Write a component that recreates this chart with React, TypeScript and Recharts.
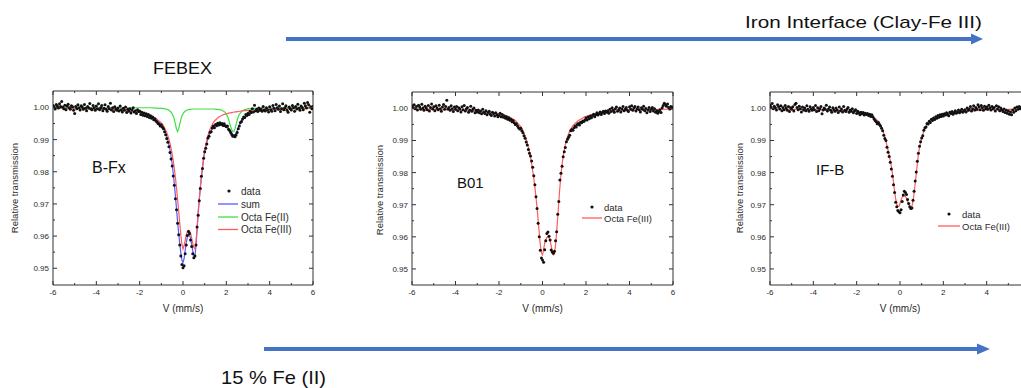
import React from 'react';
import { ComposedChart, Line, Scatter, XAxis, YAxis, ReferenceArea } from 'recharts';

// ---------- velocity grids (mm/s) ----------
const FIT_V = [
  -6, -5.5, -5, -4.5, -4, -3.5, -3, -2.5, -2, -1.75, -1.5, -1.25,
  -1, -0.95, -0.9, -0.85, -0.8, -0.75, -0.7, -0.65, -0.6, -0.55,
  -0.5, -0.45, -0.4, -0.35, -0.3, -0.25, -0.2, -0.15, -0.1, -0.05,
  0, 0.05, 0.1, 0.15, 0.2, 0.25, 0.3, 0.35, 0.4, 0.45,
  0.5, 0.55, 0.6, 0.65, 0.7, 0.75, 0.8, 0.85, 0.9, 0.95,
  1, 1.05, 1.1, 1.15, 1.2, 1.25, 1.3, 1.35, 1.4, 1.45,
  1.5, 1.55, 1.6, 1.65, 1.7, 1.75, 1.8, 1.85, 1.9, 1.95,
  2, 2.05, 2.1, 2.15, 2.2, 2.25, 2.3, 2.35, 2.4, 2.45,
  2.5, 2.55, 2.6, 2.65, 2.7, 2.75, 2.8, 2.85, 2.9, 2.95,
  3, 3.25, 3.5, 4, 4.5, 5, 5.5, 6,
];

const DATA_V = [
  -6, -5.95, -5.9, -5.85, -5.8, -5.75, -5.7, -5.65, -5.6, -5.55, -5.5, -5.45, -5.4, -5.35, -5.3, -5.25, -5.2, -5.15, -5.1, -5.05,
  -5, -4.95, -4.9, -4.85, -4.8, -4.75, -4.7, -4.65, -4.6, -4.55, -4.5, -4.45, -4.4, -4.35, -4.3, -4.25, -4.2, -4.15, -4.1, -4.05,
  -4, -3.95, -3.9, -3.85, -3.8, -3.75, -3.7, -3.65, -3.6, -3.55, -3.5, -3.45, -3.4, -3.35, -3.3, -3.25, -3.2, -3.15, -3.1, -3.05,
  -3, -2.95, -2.9, -2.85, -2.8, -2.75, -2.7, -2.65, -2.6, -2.55, -2.5, -2.45, -2.4, -2.35, -2.3, -2.25, -2.2, -2.15, -2.1, -2.05,
  -2, -1.95, -1.9, -1.85, -1.8, -1.75, -1.7, -1.65, -1.6, -1.55, -1.5, -1.45, -1.4, -1.35, -1.3, -1.25, -1.2, -1.15, -1.1, -1.05,
  -1, -0.95, -0.9, -0.85, -0.8, -0.75, -0.7, -0.65, -0.6, -0.55, -0.5, -0.45, -0.4, -0.35, -0.3, -0.25, -0.2, -0.15, -0.1, -0.05,
  0, 0.05, 0.1, 0.15, 0.2, 0.25, 0.3, 0.35, 0.4, 0.45, 0.5, 0.55, 0.6, 0.65, 0.7, 0.75, 0.8, 0.85, 0.9, 0.95,
  1, 1.05, 1.1, 1.15, 1.2, 1.25, 1.3, 1.35, 1.4, 1.45, 1.5, 1.55, 1.6, 1.65, 1.7, 1.75, 1.8, 1.85, 1.9, 1.95,
  2, 2.05, 2.1, 2.15, 2.2, 2.25, 2.3, 2.35, 2.4, 2.45, 2.5, 2.55, 2.6, 2.65, 2.7, 2.75, 2.8, 2.85, 2.9, 2.95,
  3, 3.05, 3.1, 3.15, 3.2, 3.25, 3.3, 3.35, 3.4, 3.45, 3.5, 3.55, 3.6, 3.65, 3.7, 3.75, 3.8, 3.85, 3.9, 3.95,
  4, 4.05, 4.1, 4.15, 4.2, 4.25, 4.3, 4.35, 4.4, 4.45, 4.5, 4.55, 4.6, 4.65, 4.7, 4.75, 4.8, 4.85, 4.9, 4.95,
  5, 5.05, 5.1, 5.15, 5.2, 5.25, 5.3, 5.35, 5.4, 5.45, 5.5, 5.55, 5.6, 5.65, 5.7, 5.75, 5.8, 5.85, 5.9, 5.95,
  6,
];

// ---------- B-Fx (FEBEX) ----------
const BFX_DATA = [
  1.0006, 1.0002, 0.9995, 1.0009, 1.0004, 0.9998, 1.0011, 1.0003, 1.0018, 1.0001, 0.9996, 1.0007, 0.9993, 1.0004, 1.0010, 0.9999, 0.9994, 1.0005, 1.0002, 0.9991,
  0.9981, 1.0003, 0.9996, 1.0008, 0.9999, 0.9992, 1.0005, 1.0001, 0.9994, 1.0009, 0.9997, 0.9990, 1.0003, 0.9998, 1.0012, 0.9995, 0.9993, 1.0006, 0.9999, 0.9991,
  1.0004, 0.9996, 1.0011, 0.9993, 0.9999, 1.0006, 0.9990, 0.9997, 1.0008, 0.9994, 0.9988, 1.0003, 0.9996, 1.0013, 0.9992, 0.9999, 0.9987, 1.0002, 0.9995, 0.9991,
  0.9998, 0.9989, 1.0004, 0.9993, 0.9986, 0.9997, 0.9991, 1.0001, 0.9984, 0.9994, 0.9988, 0.9996, 0.9983, 0.9992, 0.9999, 0.9986, 0.9990, 0.9981, 0.9993, 0.9987,
  0.9989, 0.9978, 0.9985, 0.9976, 0.9983, 0.9974, 0.9980, 0.9972, 0.9978, 0.9969, 0.9974, 0.9966, 0.9970, 0.9962, 0.9965, 0.9958, 0.9955, 0.9950, 0.9948, 0.9942,
  0.9945, 0.9938, 0.9934, 0.9924, 0.9915, 0.9903, 0.9892, 0.9878, 0.9860, 0.9840, 0.9818, 0.9787, 0.9758, 0.9716, 0.9682, 0.9640, 0.9604, 0.9572, 0.9538, 0.9512,
  0.9502, 0.9508, 0.9545, 0.9572, 0.9602, 0.9614, 0.9608, 0.9588, 0.9568, 0.9545, 0.9533, 0.9538, 0.9572, 0.9628, 0.9665, 0.9710, 0.9748, 0.9786, 0.9810, 0.9842,
  0.9862, 0.9873, 0.9886, 0.9905, 0.9910, 0.9923, 0.9924, 0.9936, 0.9942, 0.9937, 0.9947, 0.9943, 0.9951, 0.9945, 0.9952, 0.9947, 0.9950, 0.9944, 0.9949, 0.9943,
  0.9940, 0.9942, 0.9932, 0.9928, 0.9922, 0.9916, 0.9910, 0.9912, 0.9909, 0.9914, 0.9922, 0.9934, 0.9942, 0.9953, 0.9956, 0.9964, 0.9970, 0.9969, 0.9978, 0.9975,
  0.9982, 0.9978, 0.9988, 0.9984, 0.9996, 0.9986, 1.0007, 0.9990, 0.9994, 0.9987, 0.9998, 0.9991, 0.9995, 0.9988, 1.0003, 0.9992, 0.9989, 0.9999, 0.9993, 0.9986,
  1.0002, 0.9993, 0.9988, 1.0006, 0.9997, 0.9990, 1.0009, 0.9999, 0.9994, 1.0004, 0.9987, 0.9996, 1.0011, 0.9993, 0.9999, 1.0005, 0.9991, 0.9985, 1.0001, 0.9996,
  0.9992, 1.0006, 0.9999, 0.9988, 1.0003, 0.9995, 1.0010, 0.9997, 0.9991, 1.0004, 1.0000, 0.9993, 1.0013, 1.0005, 0.9998, 1.0015, 1.0008, 0.9985, 1.0002, 0.9996,
  1.0003,
];

const BFX_SUM = [
  0.9998, 0.9998, 0.9997, 0.9996, 0.9995, 0.9994, 0.9992, 0.9989, 0.9984, 0.9980, 0.9973, 0.9963,
  0.9948, 0.9943, 0.9937, 0.9930, 0.9921, 0.9911, 0.9899, 0.9885, 0.9868, 0.9848,
  0.9824, 0.9795, 0.9762, 0.9725, 0.9685, 0.9645, 0.9608, 0.9577, 0.9548, 0.9525,
  0.9518, 0.9530, 0.9555, 0.9580, 0.9597, 0.9605, 0.9603, 0.9592, 0.9574, 0.9554,
  0.9540, 0.9538, 0.9570, 0.9620, 0.9670, 0.9712, 0.9750, 0.9783, 0.9813, 0.9839,
  0.9860, 0.9877, 0.9891, 0.9903, 0.9913, 0.9921, 0.9928, 0.9933, 0.9938, 0.9941,
  0.9944, 0.9946, 0.9948, 0.9949, 0.9949, 0.9949, 0.9949, 0.9948, 0.9947, 0.9945,
  0.9943, 0.9940, 0.9936, 0.9931, 0.9926, 0.9920, 0.9915, 0.9913, 0.9915, 0.9920,
  0.9928, 0.9936, 0.9944, 0.9951, 0.9957, 0.9962, 0.9967, 0.9971, 0.9974, 0.9977,
  0.9979, 0.9986, 0.9990, 0.9994, 0.9995, 0.9996, 0.9997, 0.9998,
];

const BFX_FE2 = [
  1.0000, 1.0000, 1.0000, 1.0000, 0.9999, 0.9999, 0.9999, 0.9999, 0.9999, 0.9999, 0.9999, 0.9998,
  0.9997, 0.9997, 0.9996, 0.9996, 0.9995, 0.9994, 0.9993, 0.9991, 0.9988, 0.9985,
  0.9980, 0.9973, 0.9963, 0.9948, 0.9933, 0.9925, 0.9933, 0.9948, 0.9963, 0.9973,
  0.9980, 0.9985, 0.9988, 0.9991, 0.9992, 0.9993, 0.9994, 0.9994, 0.9995, 0.9995,
  0.9995, 0.9995, 0.9995, 0.9995, 0.9995, 0.9995, 0.9995, 0.9995, 0.9995, 0.9995,
  0.9995, 0.9995, 0.9995, 0.9995, 0.9995, 0.9995, 0.9995, 0.9995, 0.9995, 0.9995,
  0.9994, 0.9994, 0.9994, 0.9993, 0.9993, 0.9992, 0.9991, 0.9989, 0.9987, 0.9984,
  0.9979, 0.9973, 0.9964, 0.9952, 0.9940, 0.9930, 0.9925, 0.9926, 0.9934, 0.9946,
  0.9960, 0.9971, 0.9978, 0.9983, 0.9987, 0.9990, 0.9992, 0.9993, 0.9994, 0.9995,
  0.9996, 0.9997, 0.9998, 0.9999, 0.9999, 1.0000, 1.0000, 1.0000,
];

const BFX_FE3 = [
  0.9998, 0.9998, 0.9997, 0.9997, 0.9996, 0.9995, 0.9993, 0.9990, 0.9985, 0.9981, 0.9975, 0.9966,
  0.9952, 0.9948, 0.9943, 0.9937, 0.9930, 0.9922, 0.9912, 0.9901, 0.9888, 0.9873,
  0.9855, 0.9834, 0.9810, 0.9782, 0.9750, 0.9715, 0.9678, 0.9640, 0.9603, 0.9574,
  0.9560, 0.9570, 0.9587, 0.9603, 0.9614, 0.9618, 0.9616, 0.9608, 0.9594, 0.9578,
  0.9565, 0.9560, 0.9582, 0.9625, 0.9675, 0.9715, 0.9752, 0.9785, 0.9815, 0.9842,
  0.9865, 0.9883, 0.9899, 0.9912, 0.9923, 0.9933, 0.9941, 0.9947, 0.9953, 0.9957,
  0.9961, 0.9964, 0.9967, 0.9970, 0.9972, 0.9974, 0.9975, 0.9977, 0.9978, 0.9979,
  0.9980, 0.9981, 0.9982, 0.9983, 0.9983, 0.9984, 0.9985, 0.9985, 0.9986, 0.9986,
  0.9987, 0.9987, 0.9988, 0.9988, 0.9989, 0.9989, 0.9990, 0.9990, 0.9990, 0.9991,
  0.9991, 0.9992, 0.9993, 0.9995, 0.9996, 0.9997, 0.9997, 0.9998,
];

// ---------- B01 ----------
const B01_DATA = [
  1.0008, 1.0003, 1.0011, 0.9999, 1.0006, 0.9995, 1.0010, 1.0004, 0.9997, 1.0013, 1.0001, 0.9994, 1.0007, 1.0002, 0.9996, 1.0009, 0.9992, 1.0003, 1.0014, 0.9998,
  1.0005, 0.9993, 1.0008, 1.0001, 0.9996, 1.0010, 0.9999, 0.9991, 1.0004, 1.0012, 0.9997, 1.0006, 1.0025, 0.9998, 1.0003, 0.9994, 1.0008, 0.9999, 0.9990, 1.0004,
  0.9997, 1.0006, 0.9993, 1.0002, 0.9998, 0.9989, 1.0005, 0.9996, 1.0009, 0.9992, 0.9999, 1.0003, 0.9988, 0.9995, 1.0007, 0.9991, 0.9997, 1.0001, 0.9986, 0.9994,
  0.9989, 0.9995, 0.9986, 0.9992, 0.9983, 0.9997, 0.9988, 0.9984, 0.9993, 0.9980, 0.9987, 0.9991, 0.9982, 0.9978, 0.9988, 0.9984, 0.9976, 0.9986, 0.9980, 0.9974,
  0.9978, 0.9985, 0.9974, 0.9981, 0.9972, 0.9976, 0.9969, 0.9974, 0.9966, 0.9971, 0.9963, 0.9966, 0.9958, 0.9962, 0.9955, 0.9950, 0.9952, 0.9945, 0.9940, 0.9936,
  0.9938, 0.9930, 0.9924, 0.9915, 0.9907, 0.9895, 0.9886, 0.9872, 0.9860, 0.9852, 0.9836, 0.9817, 0.9790, 0.9762, 0.9725, 0.9688, 0.9642, 0.9600, 0.9558, 0.9534,
  0.9528, 0.9521, 0.9560, 0.9588, 0.9610, 0.9615, 0.9602, 0.9590, 0.9559, 0.9553, 0.9549, 0.9555, 0.9588, 0.9616, 0.9670, 0.9710, 0.9777, 0.9798, 0.9820, 0.9849,
  0.9865, 0.9878, 0.9896, 0.9904, 0.9910, 0.9916, 0.9930, 0.9934, 0.9932, 0.9940, 0.9945, 0.9942, 0.9950, 0.9953, 0.9948, 0.9957, 0.9955, 0.9961, 0.9959, 0.9964,
  0.9970, 0.9964, 0.9973, 0.9968, 0.9976, 0.9971, 0.9978, 0.9982, 0.9974, 0.9980, 0.9986, 0.9979, 0.9983, 0.9989, 0.9981, 0.9987, 0.9991, 0.9984, 0.9992, 0.9988,
  0.9993, 0.9985, 0.9997, 0.9990, 1.0002, 0.9994, 0.9988, 0.9999, 1.0004, 0.9991, 0.9996, 1.0001, 0.9989, 0.9998, 1.0006, 0.9993, 0.9997, 1.0003, 0.9995, 0.9990,
  1.0005, 0.9998, 1.0008, 0.9994, 1.0001, 1.0006, 0.9992, 0.9999, 1.0004, 0.9996, 0.9989, 1.0002, 0.9997, 1.0007, 0.9993, 1.0000, 0.9986, 0.9995, 1.0003, 0.9990,
  0.9997, 1.0003, 0.9992, 0.9999, 0.9988, 0.9993, 0.9985, 0.9990, 0.9996, 0.9987, 1.0002, 1.0009, 1.0016, 1.0012, 1.0007, 1.0014, 1.0003, 0.9998, 1.0006, 1.0001,
  1.0004,
];

const B01_FE3 = [
  0.9998, 0.9997, 0.9997, 0.9996, 0.9995, 0.9993, 0.9991, 0.9988, 0.9983, 0.9979, 0.9972, 0.9962,
  0.9943, 0.9937, 0.9930, 0.9922, 0.9913, 0.9903, 0.9892, 0.9879, 0.9864, 0.9847,
  0.9828, 0.9805, 0.9782, 0.9755, 0.9724, 0.9690, 0.9652, 0.9612, 0.9575, 0.9550,
  0.9544, 0.9560, 0.9580, 0.9592, 0.9598, 0.9600, 0.9597, 0.9588, 0.9572, 0.9554,
  0.9544, 0.9548, 0.9575, 0.9615, 0.9660, 0.9710, 0.9755, 0.9795, 0.9825, 0.9850,
  0.9870, 0.9887, 0.9901, 0.9912, 0.9921, 0.9929, 0.9936, 0.9941, 0.9946, 0.9950,
  0.9953, 0.9956, 0.9959, 0.9962, 0.9964, 0.9966, 0.9968, 0.9970, 0.9972, 0.9974,
  0.9975, 0.9976, 0.9977, 0.9978, 0.9979, 0.9980, 0.9981, 0.9982, 0.9983, 0.9983,
  0.9984, 0.9985, 0.9985, 0.9986, 0.9986, 0.9987, 0.9987, 0.9988, 0.9988, 0.9989,
  0.9989, 0.9991, 0.9992, 0.9994, 0.9995, 0.9996, 0.9997, 0.9998,
];

// ---------- IF-B ----------
const IFB_DATA = [
  1.0010, 1.0004, 1.0015, 0.9999, 1.0007, 1.0002, 0.9995, 1.0011, 1.0005, 0.9998, 1.0008, 0.9993, 1.0003, 0.9996, 1.0009, 1.0001, 0.9994, 1.0006, 0.9990, 1.0002,
  0.9997, 1.0005, 0.9992, 1.0012, 1.0016, 1.0003, 0.9996, 1.0007, 0.9999, 0.9989, 1.0004, 0.9995, 1.0001, 0.9993, 1.0008, 0.9997, 0.9991, 1.0005, 0.9998, 0.9994,
  1.0003, 0.9996, 1.0009, 0.9990, 1.0002, 0.9993, 0.9999, 1.0006, 0.9983, 0.9995, 1.0001, 0.9997, 1.0010, 0.9992, 0.9998, 1.0004, 0.9994, 0.9988, 1.0002, 0.9996,
  0.9991, 1.0001, 0.9995, 0.9987, 1.0004, 0.9993, 0.9998, 0.9989, 1.0006, 0.9994, 0.9990, 0.9997, 1.0003, 0.9988, 0.9995, 0.9991, 0.9999, 0.9986, 0.9993, 0.9996,
  0.9984, 0.9991, 0.9986, 0.9980, 0.9988, 0.9983, 0.9987, 0.9979, 0.9985, 0.9981, 0.9984, 0.9978, 0.9982, 0.9975, 0.9980, 0.9974, 0.9968, 0.9962, 0.9958, 0.9952,
  0.9956, 0.9950, 0.9945, 0.9938, 0.9930, 0.9916, 0.9906, 0.9900, 0.9879, 0.9863, 0.9850, 0.9832, 0.9811, 0.9789, 0.9762, 0.9738, 0.9708, 0.9694, 0.9682, 0.9678,
  0.9675, 0.9684, 0.9710, 0.9730, 0.9742, 0.9738, 0.9732, 0.9716, 0.9704, 0.9694, 0.9688, 0.9690, 0.9714, 0.9742, 0.9774, 0.9802, 0.9835, 0.9860, 0.9882, 0.9896,
  0.9908, 0.9915, 0.9932, 0.9940, 0.9942, 0.9953, 0.9951, 0.9960, 0.9956, 0.9966, 0.9962, 0.9970, 0.9965, 0.9974, 0.9969, 0.9978, 0.9972, 0.9980, 0.9975, 0.9982,
  0.9976, 0.9983, 0.9979, 0.9986, 0.9981, 0.9977, 0.9988, 0.9984, 0.9990, 0.9982, 0.9987, 0.9993, 0.9985, 0.9989, 0.9995, 0.9986, 0.9991, 0.9997, 0.9988, 0.9993,
  0.9996, 0.9989, 1.0001, 0.9994, 0.9998, 1.0006, 0.9992, 0.9999, 1.0008, 0.9995, 1.0003, 0.9997, 1.0011, 1.0004, 0.9996, 1.0009, 1.0002, 0.9994, 1.0007, 0.9999,
  1.0004, 0.9997, 1.0010, 1.0002, 0.9995, 1.0006, 0.9999, 1.0003, 0.9992, 1.0008, 0.9998, 1.0005, 0.9993, 1.0001, 0.9996, 0.9990, 0.9998, 0.9987, 0.9994, 0.9985,
  0.9992, 0.9982, 0.9989, 0.9980, 0.9995, 0.9988, 1.0001, 0.9993, 1.0004, 0.9997, 1.0006, 0.9999, 1.0003, 0.9996, 1.0008, 1.0001, 0.9995, 1.0005, 0.9999, 1.0002,
  1.0003,
];

const IFB_FE3 = [
  0.9998, 0.9998, 0.9997, 0.9997, 0.9996, 0.9995, 0.9994, 0.9992, 0.9989, 0.9986, 0.9981, 0.9974,
  0.9960, 0.9955, 0.9949, 0.9942, 0.9933, 0.9923, 0.9911, 0.9897, 0.9883, 0.9869,
  0.9854, 0.9838, 0.9820, 0.9797, 0.9770, 0.9742, 0.9719, 0.9702, 0.9694, 0.9695,
  0.9704, 0.9715, 0.9723, 0.9727, 0.9728, 0.9726, 0.9720, 0.9711, 0.9702, 0.9695,
  0.9691, 0.9695, 0.9710, 0.9735, 0.9765, 0.9795, 0.9828, 0.9857, 0.9878, 0.9894,
  0.9907, 0.9918, 0.9929, 0.9938, 0.9945, 0.9950, 0.9954, 0.9957, 0.9960, 0.9963,
  0.9965, 0.9967, 0.9969, 0.9971, 0.9973, 0.9975, 0.9976, 0.9977, 0.9978, 0.9979,
  0.9980, 0.9981, 0.9982, 0.9983, 0.9983, 0.9984, 0.9985, 0.9985, 0.9986, 0.9986,
  0.9987, 0.9987, 0.9988, 0.9988, 0.9988, 0.9989, 0.9989, 0.9990, 0.9990, 0.9990,
  0.9991, 0.9992, 0.9993, 0.9995, 0.9996, 0.9997, 0.9997, 0.9998,
];

// ---------- axis ticks ----------
const X_TICKS = [-6, -5, -4, -3, -2, -1, 0, 1, 2, 3, 4, 5, 6];
const X_LABELED = [-6, -4, -2, 0, 2, 4, 6];
const Y_TICKS = [0.95, 0.955, 0.96, 0.965, 0.97, 0.975, 0.98, 0.985, 0.99, 0.995, 1.0];
const Y_LABELED = [0.95, 0.96, 0.97, 0.98, 0.99, 1.0];

// ---------- styles ----------
const PAGE_W = 1021;
const AXIS_COLOR = '#333';
const TEXT_COLOR = '#2a2a2a';
const SANS = "'Liberation Sans', Arial, Helvetica, sans-serif";
const NARROW = "'Liberation Sans Narrow', 'Arial Narrow', 'Liberation Sans', sans-serif";
const BLUE = '#5a5aff';
const GREEN = '#3fe03f';
const RED = '#ff5c5c';
const ARROW = '#4472C4';
const Y_AXIS_W = 53;
const RIGHT_PAD = 10;
const CHART_H = 320;

const rows = (xs: number[], ys: number[]) => xs.map((v, i) => ({ v, t: ys[i] }));

const near = (a: number, list: number[]) => list.some((b) => Math.abs(a - b) < 1e-6);

const XTick = (props: any) => {
  const { x, y, payload, plotTop, maxX } = props;
  const v = payload.value;
  const major = near(v, X_LABELED);
  const len = major ? 4 : 2;
  const showLabel = major && x + 5 < maxX;
  return (
    <g>
      <line x1={x} x2={x} y1={y} y2={y - len} stroke={AXIS_COLOR} strokeWidth={1} />
      <line x1={x} x2={x} y1={plotTop} y2={plotTop + len} stroke={AXIS_COLOR} strokeWidth={1} />
      {showLabel && (
        <text x={x} y={y + 10} textAnchor="middle" fontSize={8} fontFamily={SANS} fill={TEXT_COLOR}>
          {String(v)}
        </text>
      )}
    </g>
  );
};

const YTick = (props: any) => {
  const { x, y, payload, plotRight } = props;
  const v = payload.value;
  const major = near(v, Y_LABELED);
  const len = major ? 4 : 2;
  return (
    <g>
      <line x1={x} x2={x + len} y1={y} y2={y} stroke={AXIS_COLOR} strokeWidth={1} />
      <line x1={plotRight} x2={plotRight - len} y1={y} y2={y} stroke={AXIS_COLOR} strokeWidth={1} />
      {major && (
        <text x={x - 4} y={y + 3} textAnchor="end" fontSize={8} fontFamily={SANS} fill={TEXT_COLOR}>
          {v.toFixed(2)}
        </text>
      )}
    </g>
  );
};

const Dot = (p: any) => <circle cx={p.cx} cy={p.cy} r={1.5} fill="#111" />;

type Curve = { name: string; color: string; values: number[] };

function Panel(props: {
  left: number;
  plotWidth: number;
  plotTop: number;
  plotBottom: number;
  yDomain: [number, number];
  data: number[];
  curves: Curve[];
}) {
  const { left, plotWidth, plotTop, plotBottom, yDomain, data, curves } = props;
  const width = Y_AXIS_W + plotWidth + RIGHT_PAD;
  const plotRight = Y_AXIS_W + plotWidth;
  const maxX = PAGE_W - left;
  return (
    <div style={{ position: 'absolute', left, top: 0 }}>
      <ComposedChart
        width={width}
        height={CHART_H}
        margin={{ top: plotTop, right: RIGHT_PAD, bottom: 0, left: 0 }}
      >
        <XAxis
          dataKey="v"
          type="number"
          domain={[-6, 6]}
          ticks={X_TICKS}
          interval={0}
          allowDataOverflow
          height={CHART_H - plotBottom}
          axisLine={false}
          tickLine={false}
          tickSize={0}
          tickMargin={0}
          tick={(p: any) => <XTick {...p} plotTop={plotTop} maxX={maxX} />}
        />
        <YAxis
          dataKey="t"
          type="number"
          domain={yDomain}
          ticks={Y_TICKS}
          interval={0}
          allowDataOverflow
          width={Y_AXIS_W}
          axisLine={false}
          tickLine={false}
          tickSize={0}
          tickMargin={0}
          tick={(p: any) => <YTick {...p} plotRight={plotRight} />}
        />
        <ReferenceArea
          x1={-6}
          x2={6}
          y1={yDomain[0]}
          y2={yDomain[1]}
          fill="#fff"
          fillOpacity={0}
          stroke={AXIS_COLOR}
          strokeWidth={1}
          strokeOpacity={1}
        />
        {curves.map((c) => (
          <Line
            key={c.name}
            data={rows(FIT_V, c.values)}
            dataKey="t"
            type="linear"
            stroke={c.color}
            strokeWidth={1.2}
            dot={false}
            activeDot={false}
            isAnimationActive={false}
          />
        ))}
        <Scatter data={rows(DATA_V, data)} dataKey="t" shape={Dot} isAnimationActive={false} />
      </ComposedChart>
    </div>
  );
}

function LegendLine({ x, y, color, label }: { x: number; y: number; color: string; label: string }) {
  return (
    <g>
      <line x1={x} x2={x + 20} y1={y} y2={y} stroke={color} strokeWidth={1.3} />
      <text x={x + 23} y={y + 3.5} fontSize={10} fontFamily={SANS} fill={TEXT_COLOR}>
        {label}
      </text>
    </g>
  );
}

export default function App() {
  return (
    <div
      style={{
        position: 'absolute',
        left: 0,
        top: 0,
        width: PAGE_W,
        height: 388,
        overflow: 'hidden',
        background: '#fff',
      }}
    >
      <Panel
        left={0}
        plotWidth={260}
        plotTop={91}
        plotBottom={285}
        yDomain={[0.9448, 1.0051]}
        data={BFX_DATA}
        curves={[
          { name: 'sum', color: BLUE, values: BFX_SUM },
          { name: 'Octa Fe(II)', color: GREEN, values: BFX_FE2 },
          { name: 'Octa Fe(III)', color: RED, values: BFX_FE3 },
        ]}
      />
      <Panel
        left={359}
        plotWidth={261}
        plotTop={92}
        plotBottom={285}
        yDomain={[0.945, 1.0051]}
        data={B01_DATA}
        curves={[{ name: 'Octa Fe(III)', color: RED, values: B01_FE3 }]}
      />
      <Panel
        left={717}
        plotWidth={260}
        plotTop={92}
        plotBottom={285}
        yDomain={[0.945, 1.0051]}
        data={IFB_DATA}
        curves={[{ name: 'Octa Fe(III)', color: RED, values: IFB_FE3 }]}
      />
      <svg
        width={PAGE_W}
        height={388}
        style={{ position: 'absolute', left: 0, top: 0, pointerEvents: 'none' }}
      >
        {/* arrows */}
        <line x1={286} x2={974} y1={39} y2={39} stroke={ARROW} strokeWidth={4} />
        <polygon points="971,33.5 983,39 971,44.5" fill={ARROW} />
        <line x1={264} x2={980} y1={349} y2={349} stroke={ARROW} strokeWidth={4} />
        <polygon points="977,343.5 990,349 977,354.5" fill={ARROW} />

        {/* annotations */}
        <text x={745} y={28} fontSize={17} fontFamily={NARROW} fill="#111" textLength={237} lengthAdjust="spacingAndGlyphs">
          Iron Interface (Clay-Fe III)
        </text>
        <text x={153} y={74} fontSize={16} fontFamily={NARROW} fill="#111" textLength={59} lengthAdjust="spacingAndGlyphs">
          FEBEX
        </text>
        <text x={221} y={384} fontSize={19} fontFamily={NARROW} fill="#111" textLength={105} lengthAdjust="spacingAndGlyphs">
          15 % Fe (II)
        </text>

        {/* sample names */}
        <text x={92} y={173} fontSize={16} fontFamily={SANS} fill="#111">B-Fx</text>
        <text x={457} y={188} fontSize={15} fontFamily={SANS} fill="#111">B01</text>
        <text x={816} y={175} fontSize={15} fontFamily={SANS} fill="#111">IF-B</text>

        {/* axis titles */}
        <text transform="translate(18,188) rotate(-90)" textAnchor="middle" fontSize={9.5} fontFamily={SANS} fill={TEXT_COLOR}>
          Relative transmission
        </text>
        <text transform="translate(383,190) rotate(-90)" textAnchor="middle" fontSize={9.5} fontFamily={SANS} fill={TEXT_COLOR}>
          Relative transmission
        </text>
        <text transform="translate(743,188) rotate(-90)" textAnchor="middle" fontSize={9.5} fontFamily={SANS} fill={TEXT_COLOR}>
          Relative transmission
        </text>
        <text x={183} y={311.5} textAnchor="middle" fontSize={10} fontFamily={SANS} fill={TEXT_COLOR}>V (mm/s)</text>
        <text x={542.5} y={311.5} textAnchor="middle" fontSize={10} fontFamily={SANS} fill={TEXT_COLOR}>V (mm/s)</text>
        <text x={900} y={311.5} textAnchor="middle" fontSize={10} fontFamily={SANS} fill={TEXT_COLOR}>V (mm/s)</text>

        {/* legend panel 1 */}
        <circle cx={229} cy={191} r={1.6} fill="#111" />
        <text x={241} y={194.5} fontSize={10} fontFamily={SANS} fill={TEXT_COLOR}>data</text>
        <LegendLine x={218} y={204} color={BLUE} label="sum" />
        <LegendLine x={218} y={217} color={GREEN} label="Octa Fe(II)" />
        <LegendLine x={218} y={229.5} color={RED} label="Octa Fe(III)" />

        {/* legend panel 2 */}
        <circle cx={592} cy={207} r={1.6} fill="#111" />
        <text x={604} y={210.5} fontSize={9.5} fontFamily={SANS} fill={TEXT_COLOR}>data</text>
        <line x1={582} x2={602} y1={218} y2={218} stroke={RED} strokeWidth={1.3} />
        <text x={604} y={221.5} fontSize={9.5} fontFamily={SANS} fill={TEXT_COLOR}>Octa Fe(III)</text>

        {/* legend panel 3 */}
        <circle cx={949} cy={214} r={1.6} fill="#111" />
        <text x={962} y={217.5} fontSize={9.5} fontFamily={SANS} fill={TEXT_COLOR}>data</text>
        <line x1={938} x2={960} y1={226} y2={226} stroke={RED} strokeWidth={1.3} />
        <text x={962} y={229.5} fontSize={9.5} fontFamily={SANS} fill={TEXT_COLOR}>Octa Fe(III)</text>
      </svg>
    </div>
  );
}
